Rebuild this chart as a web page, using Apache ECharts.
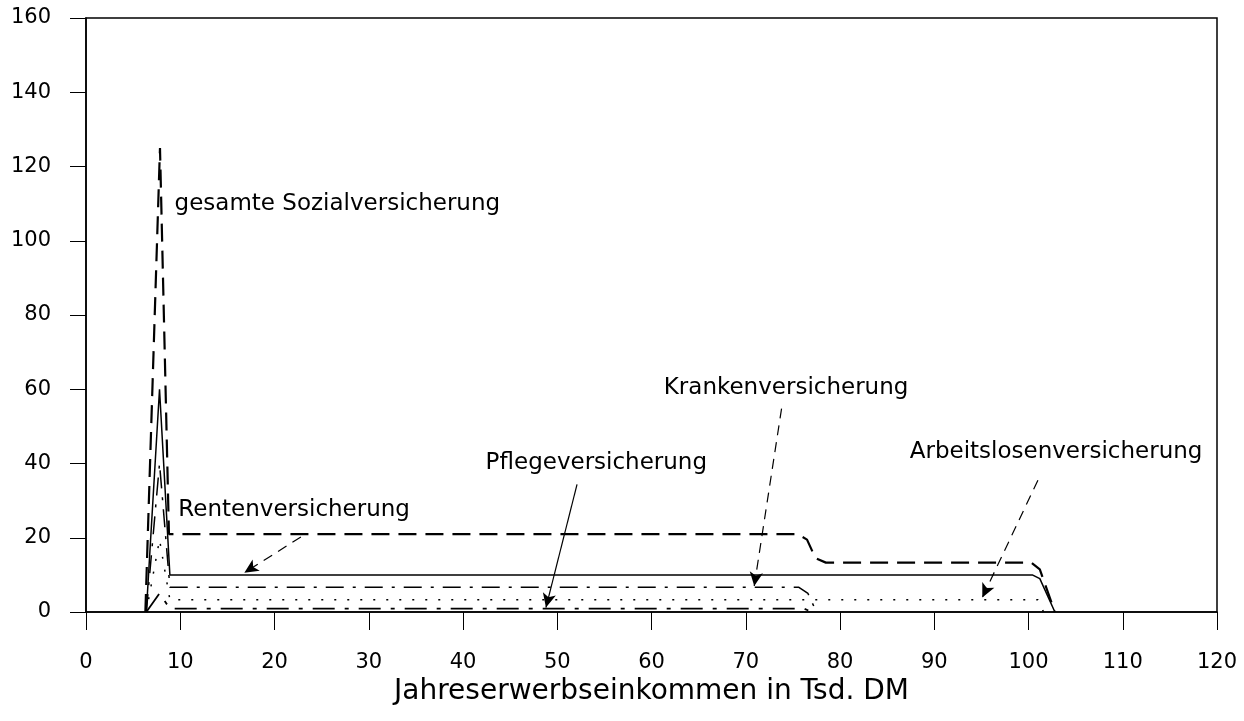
<!DOCTYPE html>
<html>
<head>
<meta charset="utf-8">
<script src="https://cdn.jsdelivr.net/npm/echarts@6/dist/echarts.min.js"></script>
<style>html,body{margin:0;padding:0;background:#fff;}#c{width:1244px;height:721px;}</style>
</head>
<body>
<div id="c"></div>
<script>
// x: Jahreserwerbseinkommen (Tsd. DM), y: marginal burden (%)
const xTicks = [0,10,20,30,40,50,60,70,80,90,100,110,120];
const yTicks = [0,20,40,60,80,100,120,140,160];

const gesamte = [[6.3,0],[7.85,125],[8.8,21],[75.5,21],[76.5,19.5],[77.4,14.5],[78.5,13.3],[100.3,13.3],[101.2,11.5],[102.8,0]];
const rente   = [[6.4,0],[7.8,60],[8.9,10],[100.4,10],[101.2,9],[102.8,0]];
const kranken = [[6.4,0],[7.8,40],[8.9,6.7],[75.6,6.7],[76.6,5],[77.5,0]];
const alv     = [[6.4,0],[7.8,19.5],[8.9,3.3],[101.0,3.3],[101.6,0]];
const pflege  = [[6.4,0],[7.8,5],[8.9,0.9],[76.2,0.9],[77.0,0]];

const labels = [
  {text:'gesamte Sozialversicherung', x:9.4, y:110},
  {text:'Rentenversicherung', x:9.8, y:27.4},
  {text:'Pflegeversicherung', x:42.4, y:40},
  {text:'Krankenversicherung', x:61.3, y:60.2},
  {text:'Arbeitslosenversicherung', x:87.4, y:43}
];
const arrows = [
  {from:[22.8,20.2], to:[16.8,10.6], dashed:true},
  {from:[52.1,34.4], to:[48.8,1.2], dashed:false},
  {from:[73.8,54.8], to:[70.9,7.0], dashed:true},
  {from:[101.0,35.5], to:[95.1,3.9], dashed:true}
];

const FONT = '"DejaVu Sans", Verdana, sans-serif';
const chart = echarts.init(document.getElementById('c'));

function lineSeries(name, data, type, width){
  return {name, type:'line', data, symbol:'none', smooth:false, animation:false,
    lineStyle:{color:'#000', width, type}};
}

chart.setOption({
  animation:false,
  backgroundColor:'#fff',
  grid:{left:86, right:27, top:18, bottom:109, show:true, borderColor:'#000', borderWidth:1.5, backgroundColor:'transparent'},
  xAxis:{type:'value', min:0, max:120, interval:10,
    axisLine:{lineStyle:{color:'#000', width:1.5}},
    axisTick:{inside:false, length:18, lineStyle:{color:'#000', width:1}},
    axisLabel:{color:'#000', fontSize:21, fontFamily:FONT, margin:40,
      formatter:v=> xTicks.includes(v) ? String(v) : ''},
    splitLine:{show:false},
    name:'Jahreserwerbseinkommen in Tsd. DM', nameLocation:'middle', nameGap:57,
    nameTextStyle:{color:'#000', fontSize:28, fontFamily:FONT}
  },
  yAxis:{type:'value', min:0, max:160, interval:20,
    axisLine:{show:true, lineStyle:{color:'#000', width:1.5}},
    axisTick:{show:true, inside:false, length:16, lineStyle:{color:'#000', width:1}},
    axisLabel:{color:'#000', fontSize:21, fontFamily:FONT, margin:35,
      formatter:v=> yTicks.includes(v) ? String(v) : ''},
    splitLine:{show:false}
  },
  series:[
    lineSeries('gesamte Sozialversicherung', gesamte, [18,9], 2.2),
    lineSeries('Rentenversicherung', rente, 'solid', 1.5),
    lineSeries('Krankenversicherung', kranken, [18,9,3,9], 1.5),
    lineSeries('Arbeitslosenversicherung', alv, [2,11], 1.5),
    lineSeries('Pflegeversicherung', pflege, [22,10,4,10], 1.8),
    {type:'scatter', symbolSize:0, animation:false, silent:true,
      itemStyle:{opacity:1},
      data: labels.map(l=>({value:[l.x,l.y], label:{formatter:l.text, color:'#000'}})),
      label:{show:true, position:'right', distance:0, color:'#000', opacity:1, fontSize:23, fontFamily:FONT}
    },
    {type:'line', data:[], animation:false,
      markLine:{silent:true, animation:false, symbol:['none','arrow'], symbolSize:[10,14],
        label:{show:false},
        data: arrows.map(a=>[
          {coord:a.from, lineStyle:{color:'#000', width:1.2, type:a.dashed?[10,7]:'solid'}},
          {coord:a.to}
        ])
      }
    }
  ]
});
</script>
</body>
</html>
